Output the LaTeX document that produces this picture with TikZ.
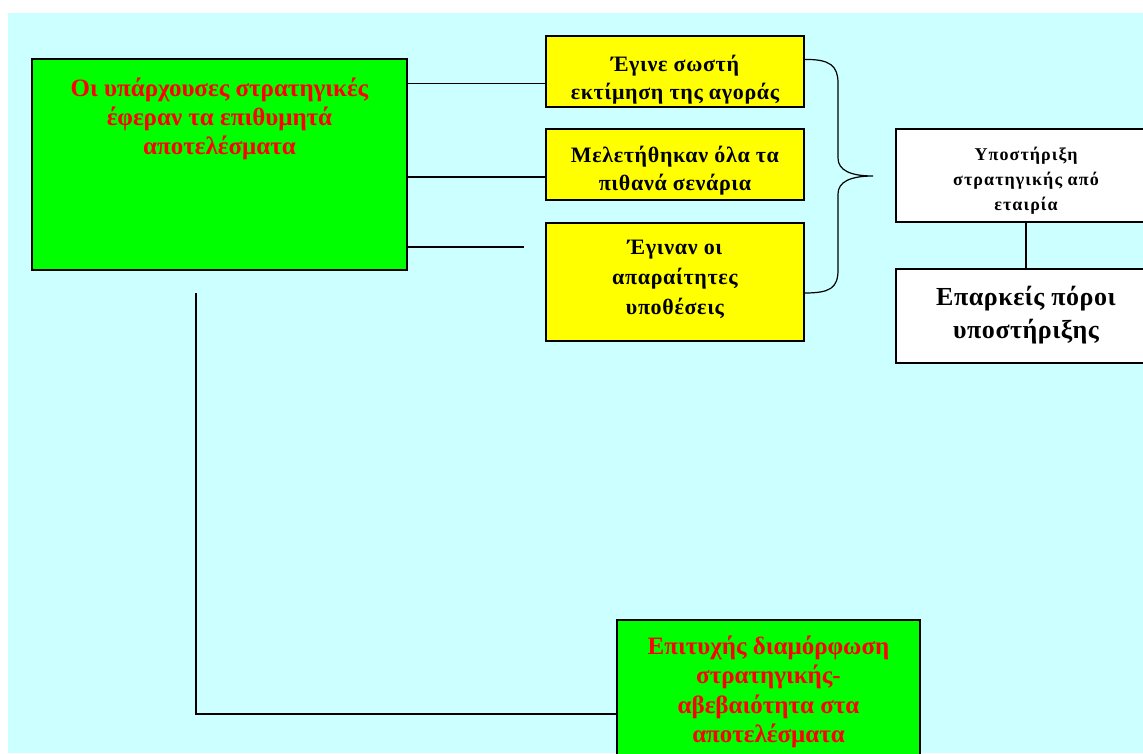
\documentclass[tikz,border=0pt]{standalone}
\usepackage{fontspec}
\setmainfont{Liberation Serif}
\definecolor{bgcyan}{RGB}{204,255,255}
\definecolor{boxgreen}{RGB}{0,255,0}
\definecolor{boxyellow}{RGB}{255,255,0}
\begin{document}
\begin{tikzpicture}[
   x=1pt, y=-1pt,
   greenbox/.style={rectangle, draw, fill=boxgreen, line width=1.5pt},
   redtext/.style={text=red, align=center},
   yellowbox/.style={rectangle, draw, fill=boxyellow, line width=1.5pt, minimum width=258pt},
   blacktext/.style={align=center, inner sep=0pt, font=\fontsize{22}{28}\selectfont\bfseries\addfontfeature{LetterSpace=3}},
   whitebox/.style={rectangle, draw, fill=white, line width=1.2pt, minimum width=260pt},
   link/.style={line width=1.2pt}
]
\useasboundingbox (0,0) rectangle (1143,753);
\clip (0,0) rectangle (1143,753);
\fill[bgcyan] (8,13) rectangle (1143,753);

% Strategies and results
\node[greenbox, minimum width=375pt, minimum height=211pt,
   label={[redtext, anchor=north, yshift=-16pt, font=\fontsize{25}{29}\selectfont\bfseries]north:Οι υπάρχουσες στρατηγικές\\έφεραν τα επιθυμητά\\αποτελέσματα}] (current) at (219.5,164.5) {};
\node[greenbox, minimum width=303pt, minimum height=170pt,
   label={[redtext, anchor=north, yshift=-13pt, font=\fontsize{25}{29.5}\selectfont\bfseries]north:Επιτυχής διαμόρφωση\\στρατηγικής-\\αβεβαιότητα στα\\αποτελέσματα}] (success) at (768.5,705) {};

% Conditions
\node[yellowbox, minimum height=71pt, label={[blacktext, yshift=-8pt]center:Έγινε σωστή\\εκτίμηση της αγοράς}] (market) at (675,71.5) {};
\node[yellowbox, minimum height=71pt, label={[blacktext, yshift=-6pt]center:Μελετήθηκαν όλα τα\\πιθανά σενάρια}] (scenarios) at (675,164.5) {};
\node[yellowbox, minimum height=118pt, label={[blacktext, yshift=3pt, font=\fontsize{22}{30}\selectfont\bfseries\addfontfeature{LetterSpace=3}]center:Έγιναν οι\\απαραίτητες\\υποθέσεις}] (assume) at (675,282) {};

% Support
\node[whitebox, minimum height=93pt, label={[blacktext, yshift=-5pt, font=\fontsize{18}{25}\selectfont\bfseries\addfontfeature{LetterSpace=6}]center:Υποστήριξη\\στρατηγικής από\\εταιρία}] (support) at (1026,175.5) {};
\node[whitebox, minimum height=94pt, label={[blacktext, yshift=1pt, font=\fontsize{26}{33}\selectfont\bfseries\addfontfeature{LetterSpace=2}]center:Επαρκείς πόροι\\υποστήριξης}] (resources) at (1026,316) {};

% Links
\coordinate (loose) at (524,247);
\coordinate (vtop) at (196,293);
\coordinate (elbow) at (196,714);
\coordinate (tip) at (873,176);
\draw[link] ([yshift=-12pt]market.west -| current.east) -- ([yshift=-12pt]market.west);
\draw[link] ([yshift=-12.5pt]scenarios.west -| current.east) -- ([yshift=-12.5pt]scenarios.west);
\draw[link] (loose -| current.east) -- (loose);
\draw[link] (support) -- (resources);
\draw[link] (vtop) -- (elbow) -- (elbow -| success.west);

% Brace
\draw[link] ([yshift=12pt]market.east) .. controls (830,59) and (838,66) .. (838,83)
   -- (838,158) .. controls (838,170) and (850,176) .. (tip)
   .. controls (850,176) and (838,182) .. (838,194)
   -- (838,270) .. controls (838,288) and (830,293) .. ([yshift=-11pt]assume.east);
\end{tikzpicture}
\end{document}
